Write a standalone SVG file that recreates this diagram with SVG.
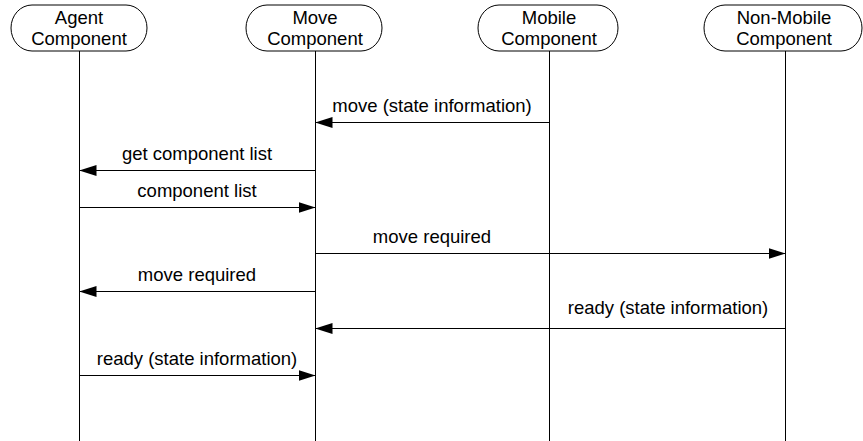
<svg xmlns="http://www.w3.org/2000/svg" width="863" height="441" viewBox="0 0 863 441">
<style>
.box{fill:#fff;stroke:#000;stroke-width:1}
.life{stroke:#000;stroke-width:1;fill:none}
.msg{stroke:#000;stroke-width:1.2;fill:none;marker-end:url(#ah)}
text{font-family:"Liberation Sans",Arial,sans-serif;font-size:18.5px;fill:#000;text-anchor:middle}
</style>
<defs>
<marker id="ah" markerUnits="userSpaceOnUse" markerWidth="17" markerHeight="11" refX="17" refY="5.5" orient="auto">
<path d="M0,0 L17,5.5 L0,11 z" fill="#000"/>
</marker>
</defs>
<g id="lifelines">
<line class="life" x1="79.5" y1="51" x2="79.5" y2="441"/>
<line class="life" x1="315.5" y1="51" x2="315.5" y2="441"/>
<line class="life" x1="549.5" y1="51" x2="549.5" y2="441"/>
<line class="life" x1="785.5" y1="51" x2="785.5" y2="441"/>
</g>
<g id="agent">
<rect class="box" x="11" y="5" width="136" height="46" rx="21" ry="23"/>
<text x="79" y="24">Agent</text>
<text x="79" y="45">Component</text>
</g>
<g id="move">
<rect class="box" x="246" y="5" width="136" height="46" rx="21" ry="23"/>
<text x="315" y="24">Move</text>
<text x="315" y="45">Component</text>
</g>
<g id="mobile">
<rect class="box" x="478" y="5" width="140" height="46" rx="21" ry="23"/>
<text x="549" y="24">Mobile</text>
<text x="549" y="45">Component</text>
</g>
<g id="nonmobile">
<rect class="box" x="704" y="5" width="158" height="46" rx="21" ry="23"/>
<text x="784" y="24">Non-Mobile</text>
<text x="784" y="45">Component</text>
</g>
<g id="connectors">
<line class="msg" x1="549.5" y1="122.5" x2="315.5" y2="122.5"/>
<text x="432" y="112">move (state information)</text>
<line class="msg" x1="315.5" y1="170.5" x2="79.5" y2="170.5"/>
<text x="197" y="160">get component list</text>
<line class="msg" x1="79.5" y1="207.5" x2="315.5" y2="207.5"/>
<text x="197" y="197">component list</text>
<line class="msg" x1="315.5" y1="253.5" x2="785.5" y2="253.5"/>
<text x="432" y="243">move required</text>
<line class="msg" x1="315.5" y1="291.5" x2="79.5" y2="291.5"/>
<text x="197" y="281">move required</text>
<line class="msg" x1="785.5" y1="328.5" x2="315.5" y2="328.5"/>
<text x="668" y="314">ready (state information)</text>
<line class="msg" x1="79.5" y1="375.5" x2="315.5" y2="375.5"/>
<text x="197" y="365">ready (state information)</text>
</g>
</svg>
